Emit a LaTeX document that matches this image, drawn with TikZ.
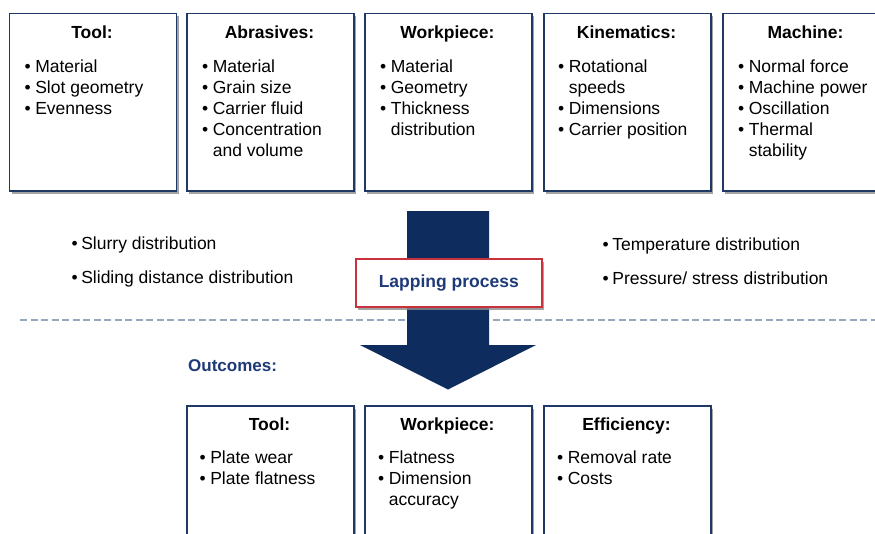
\documentclass[tikz,border=0pt]{standalone}
\usepackage{fontspec}
\setmainfont{Liberation Sans}
\usetikzlibrary{shadows}
\definecolor{boxblue}{HTML}{1F3864}
\definecolor{arrowblue}{HTML}{0E2D5E}
\definecolor{lapblue}{HTML}{1F3A78}
\definecolor{lapred}{HTML}{C8323C}
\definecolor{dashblue}{HTML}{98A8BC}
\newcommand{\bitems}[1]{\begin{tabular}[t]{@{}l@{\hspace{4.5pt}}l@{}}#1\end{tabular}}
\tikzset{
  infobox/.style={draw=boxblue, line width=1.6pt, fill=white, minimum width=167pt,
    anchor=north west, inner sep=0pt,
    drop shadow={shadow xshift=2.5pt, shadow yshift=-3pt, fill=black!45, opacity=0.8}},
  boxtitle/.style={font=\fontsize{17.5}{21}\selectfont\bfseries, anchor=base, inner sep=0pt},
  boxbody/.style={font=\fontsize{17.5}{21}\selectfont, anchor=north west, inner sep=0pt, align=left},
  midtext/.style={font=\fontsize{17.5}{21}\selectfont, anchor=base west, inner sep=0pt},
  lapbox/.style={draw=lapred, line width=1.5pt, fill=white, minimum width=186pt, minimum height=48pt,
    inner sep=0pt, text=lapblue, font=\fontsize{17.5}{21}\selectfont\bfseries,
    drop shadow={shadow xshift=2.5pt, shadow yshift=-3pt, fill=black!45, opacity=0.8}},
}
\begin{document}
\begin{tikzpicture}[x=1pt,y=-1pt]
\useasboundingbox (0,0) rectangle (875,533);
\clip (0,0) rectangle (875,533);
\fill[white] (0,0) rectangle (875,533);

% top row boxes
\node[infobox, minimum height=177.5pt] (t1) at (8.5,12.5) {};
\node[infobox, minimum height=177.5pt] (t2) at (186,12.5) {};
\node[infobox, minimum height=177.5pt] (t3) at (364,12.5) {};
\node[infobox, minimum height=177.5pt] (t4) at (543,12.5) {};
\node[infobox, minimum height=177.5pt] (t5) at (722,12.5) {};

\node[boxtitle] (t1h) at (92,38) {Tool:};
\node[boxtitle] (t2h) at (269.5,38) {Abrasives:};
\node[boxtitle] (t3h) at (447.5,38) {Workpiece:};
\node[boxtitle] (t4h) at (626.5,38) {Kinematics:};
\node[boxtitle] (t5h) at (805.5,38) {Machine:};

\node[boxbody] (t1b) at (24.5,57.3) {\bitems{\textbullet & Material\\ \textbullet & Slot geometry\\ \textbullet & Evenness}};
\node[boxbody] (t2b) at (202,57.3) {\bitems{\textbullet & Material\\ \textbullet & Grain size\\ \textbullet & Carrier fluid\\ \textbullet & Concentration\\ & and volume}};
\node[boxbody] (t3b) at (380,57.3) {\bitems{\textbullet & Material\\ \textbullet & Geometry\\ \textbullet & Thickness\\ & distribution}};
\node[boxbody] (t4b) at (558,57.3) {\bitems{\textbullet & Rotational\\ & speeds\\ \textbullet & Dimensions\\ \textbullet & Carrier position}};
\node[boxbody] (t5b) at (738,57.3) {\bitems{\textbullet & Normal force\\ \textbullet & Machine power\\ \textbullet & Oscillation\\ \textbullet & Thermal\\ & stability}};

% middle
\draw[dashblue, line width=1.5pt, dash pattern=on 7pt off 3.5pt] (20,320) -- (875,320);
\fill[arrowblue] (407,211) -- (489,211) -- (489,345) -- (536,345) -- (448,389.5)
  -- (360,345) -- (407,345) -- cycle;
\node[lapbox] (lap) at (448.8,283) {Lapping process};

\node[midtext] (m1) at (71.5,249) {\textbullet\hspace{3.5pt}Slurry distribution};
\node[midtext] (m2) at (71.5,283) {\textbullet\hspace{3.5pt}Sliding distance distribution};
\node[midtext] (m3) at (602.5,250) {\textbullet\hspace{3.5pt}Temperature distribution};
\node[midtext] (m4) at (602.5,284) {\textbullet\hspace{3.5pt}Pressure/ stress distribution};

\node[midtext, font=\fontsize{17}{21}\selectfont\bfseries, text=lapblue] (out) at (188,371.5) {Outcomes:};

% bottom row boxes
\node[infobox, minimum height=160pt] (b1) at (186,405) {};
\node[infobox, minimum height=160pt] (b2) at (364,405) {};
\node[infobox, minimum height=160pt] (b3) at (543,405) {};

\node[boxtitle] (b1h) at (269.5,430.5) {Tool:};
\node[boxtitle] (b2h) at (447.5,430.5) {Workpiece:};
\node[boxtitle] (b3h) at (626.5,430.5) {Efficiency:};

\node[boxbody] (b1b) at (199.5,448.5) {\bitems{\textbullet & Plate wear\\ \textbullet & Plate flatness}};
\node[boxbody] (b2b) at (378,448.5) {\bitems{\textbullet & Flatness\\ \textbullet & Dimension\\ & accuracy}};
\node[boxbody] (b3b) at (557,448.5) {\bitems{\textbullet & Removal rate\\ \textbullet & Costs}};
\end{tikzpicture}
\end{document}
